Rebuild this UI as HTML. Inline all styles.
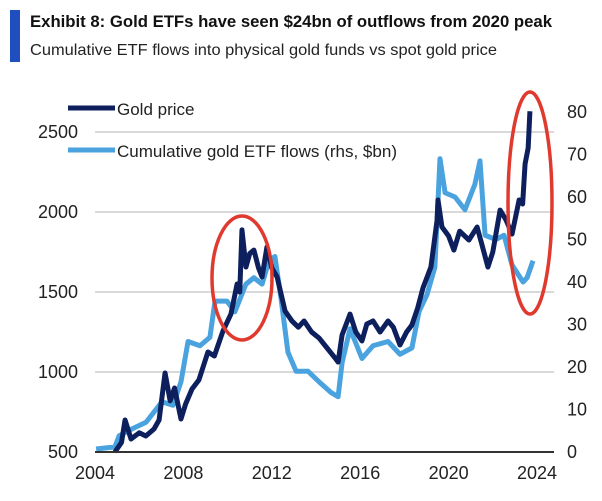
<!DOCTYPE html>
<html><head><meta charset="utf-8"><style>
body{margin:0;background:#fff;width:602px;height:496px;overflow:hidden}
text{font-family:"Liberation Sans",sans-serif}
</style></head><body>
<svg id="c" width="602" height="496">
<rect x="10" y="10" width="10" height="52" fill="#1f4fbf"/>
<text x="30" y="27" font-size="17" font-weight="bold" fill="#111" textLength="522" lengthAdjust="spacingAndGlyphs">Exhibit 8: Gold ETFs have seen $24bn of outflows from 2020 peak</text>
<text x="30" y="55" font-size="16" fill="#222" textLength="467" lengthAdjust="spacingAndGlyphs">Cumulative ETF flows into physical gold funds vs spot gold price</text>
<g id="grid"></g><g id="series"></g><g id="axes"></g>
<g>
<line x1="68" y1="108" x2="115" y2="108" stroke="#0d1f5c" stroke-width="5"/>
<text x="117" y="115" font-size="17" fill="#222">Gold price</text>
<line x1="68" y1="150" x2="115" y2="150" stroke="#4aa3df" stroke-width="5"/>
<text x="117" y="157" font-size="17" fill="#222" textLength="280" lengthAdjust="spacingAndGlyphs">Cumulative gold ETF flows (rhs, $bn)</text>
</g>
<ellipse cx="242" cy="278" rx="30" ry="62" fill="none" stroke="#e03a2f" stroke-width="3.5"/>
<ellipse cx="530" cy="203" rx="22" ry="111" fill="none" stroke="#e03a2f" stroke-width="3.5"/>
</svg>
<script>
const goldYears=[2004.9,2005.2,2005.36,2005.63,2006.0,2006.3,2006.67,2006.9,2007.17,2007.4,2007.6,2007.89,2008.1,2008.39,2008.7,2009.11,2009.4,2009.79,2010.15,2010.43,2010.55,2010.65,2010.83,2011.0,2011.19,2011.4,2011.56,2011.78,2012.0,2012.24,2012.6,2012.91,2013.2,2013.46,2013.8,2014.14,2014.5,2014.86,2015.0,2015.18,2015.54,2015.8,2016.08,2016.3,2016.58,2016.9,2017.26,2017.5,2017.8,2018.1,2018.34,2018.6,2018.84,2019.2,2019.48,2019.52,2019.7,2020.0,2020.24,2020.5,2020.92,2021.29,2021.5,2021.78,2022.0,2022.33,2022.6,2022.87,2023.19,2023.35,2023.46,2023.6,2023.68];
const goldValues=[481,560,700,581,620,600,644,700,994,820,900,706,800,894,950,1125,1100,1256,1362,1550,1500,1888,1656,1740,1762,1650,1594,1781,1650,1594,1381,1319,1280,1319,1250,1212,1150,1088,1062,1231,1362,1250,1194,1300,1319,1250,1319,1280,1169,1250,1294,1400,1525,1656,1950,2075,1906,1850,1762,1880,1825,1906,1800,1656,1750,2012,1950,1862,2075,2050,2300,2400,2630];
const etfYears=[2004.05,2004.9,2005.09,2005.7,2006.31,2007.03,2007.53,2007.89,2008.21,2008.75,2009.2,2009.43,2009.97,2010.33,2010.83,2011.19,2011.56,2011.87,2012.14,2012.42,2012.73,2013.1,2013.64,2014.14,2014.68,2015.0,2015.18,2015.54,2016.08,2016.58,2017.26,2017.8,2018.34,2018.66,2019.02,2019.38,2019.52,2019.61,2019.84,2020.29,2020.74,2021.19,2021.42,2021.65,2022.14,2022.51,2022.87,2023.37,2023.55,2023.82];
const etfValues=[0.7,1.2,3.8,5.5,7,11.8,11,16.5,26,25,27,35.5,35.5,33,39.5,41,39.5,45,46,36,23.5,19,19,16.5,14,13,21,29,22,25,26,23,24.5,33,37,43.5,59,69,61,60,57,63,68.5,51,50,51,44,40,41,45];
const leftTicks=[500,1000,1500,2000,2500];
const rightTicks=[0,10,20,30,40,50,60,70,80];
const xTicks=[2004,2008,2012,2016,2020,2024];
const X=y=>95+(y-2004)*22.1;
const YL=v=>452-(v-500)*80/500;
const YR=v=>452-v*4.25;
const NS='http://www.w3.org/2000/svg';
function mk(t,a,p){const e=document.createElementNS(NS,t);for(const k in a)e.setAttribute(k,a[k]);p.appendChild(e);return e;}
const grid=document.getElementById('grid'),axes=document.getElementById('axes'),ser=document.getElementById('series');
leftTicks.forEach((v,i)=>{
 if(i>0){const l=mk('line',{x1:95,x2:554,y1:YL(v),y2:YL(v),stroke:'#d9d9d9','stroke-width':2},grid);
 
 }
 const t=mk('text',{x:78,y:YL(v)+6,'text-anchor':'end','font-size':18,fill:'#222'},axes);t.textContent=v;
 
 
});
rightTicks.forEach(v=>{const t=mk('text',{x:567,y:YR(v)+6,'font-size':18,fill:'#222'},axes);t.textContent=v;
 
 });
xTicks.forEach(v=>{const t=mk('text',{x:X(v),y:479,'text-anchor':'middle','font-size':18,fill:'#222'},axes);t.textContent=v;
 
 });
const base=mk('line',{x1:95,x2:554,y1:452,y2:452,stroke:'#333','stroke-width':2},axes);


const pe=etfYears.map((y,i)=>X(y)+','+YR(etfValues[i])).join(' ');
const le=mk('polyline',{points:pe,fill:'none',stroke:'#4aa3df','stroke-width':5,'stroke-linejoin':'round'},ser);


const pg=goldYears.map((y,i)=>X(y)+','+Math.min(452,YL(goldValues[i]))).join(' ');
const lg=mk('polyline',{points:pg,fill:'none',stroke:'#0d1f5c','stroke-width':5,'stroke-linejoin':'round'},ser);


</script>
</body></html>
